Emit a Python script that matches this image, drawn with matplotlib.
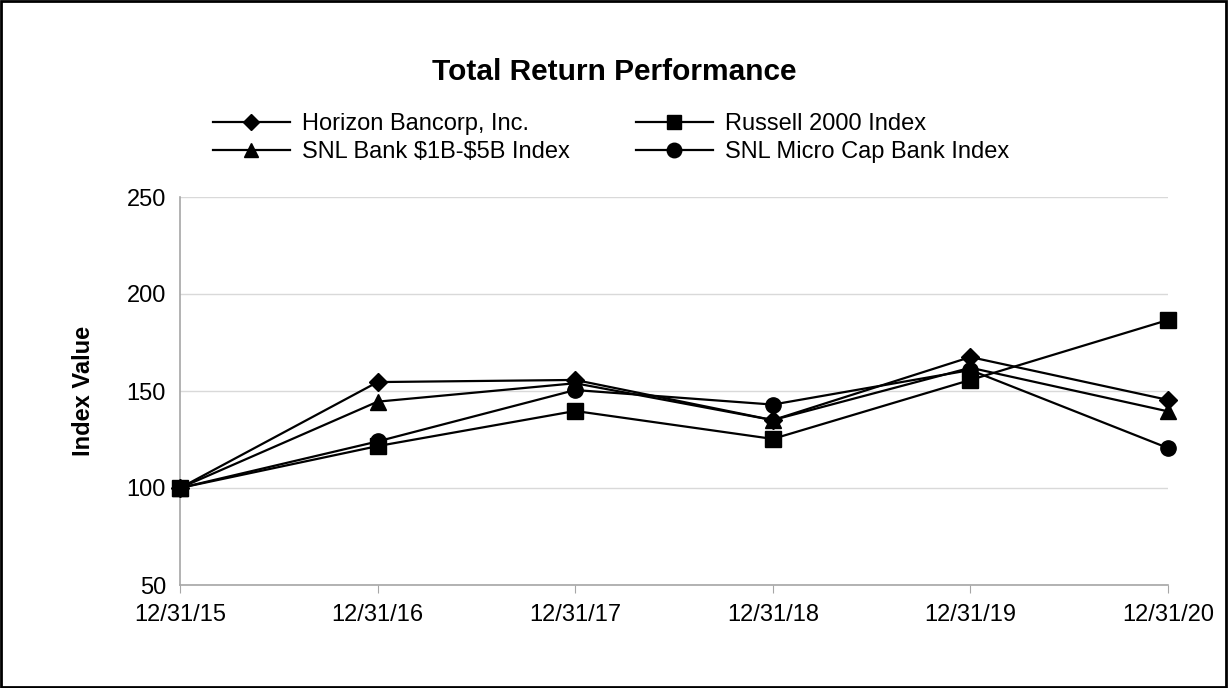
import matplotlib
matplotlib.use("Agg")
import matplotlib.pyplot as plt
from matplotlib.patches import Rectangle

plt.rcParams['font.family'] = ['Liberation Sans', 'DejaVu Sans']

dates = ["12/31/15", "12/31/16", "12/31/17", "12/31/18", "12/31/19", "12/31/20"]
horizon = [100, 154.6, 155.7, 135.0, 167.5, 145.4]
russell = [100, 121.6, 139.7, 125.3, 155.7, 186.6]
snl_1b_5b = [100, 144.5, 154.0, 135.0, 162.0, 139.5]
snl_micro = [100, 124.0, 150.5, 143.0, 160.8, 120.6]

# legend order is row-wise in the reference: col1 = horizon, snl 1b-5b
series = [
    (r"Horizon Bancorp, Inc.", horizon, "D", 9),
    (r"SNL Bank \$1B-\$5B Index", snl_1b_5b, "^", 11),
    (r"Russell 2000 Index", russell, "s", 11),
    (r"SNL Micro Cap Bank Index", snl_micro, "o", 11),
]

fig = plt.figure(figsize=(12.28, 6.88), dpi=100)
ax = fig.add_axes([180 / 1228, 1 - 585 / 688, 988 / 1228, 388 / 688])

x = list(range(len(dates)))
handles = []
for name, vals, mk, ms in series:
    h, = ax.plot(x, vals, color="black", lw=1.6, marker=mk, markersize=ms,
                 label=name, clip_on=False, zorder=3)
    handles.append(h)

ax.set_xlim(0, len(dates) - 1)
ax.set_ylim(50, 250)
ax.set_yticks([50, 100, 150, 200, 250])
ax.set_xticks(x)
ax.set_xticklabels(dates)
ax.grid(axis="y", color="#d9d9d9", lw=1)
ax.set_axisbelow(True)
for s in ["top", "right"]:
    ax.spines[s].set_visible(False)
for s in ["left", "bottom"]:
    ax.spines[s].set_color("#a6a6a6")
    ax.spines[s].set_linewidth(1.2)
ax.tick_params(axis="x", length=6, color="#a6a6a6", labelsize=17, pad=8)
ax.tick_params(axis="y", length=0, labelsize=17, pad=10)
ax.set_ylabel("Index Value", fontsize=17, fontweight="bold", labelpad=23)

fig.text(614 / 1228, 1 - 72 / 688, "Total Return Performance", fontsize=21.5,
         fontweight="bold", ha="center", va="center")

fig.legend(handles=handles, loc="upper left",
           bbox_to_anchor=(213 / 1228, 1 - 113 / 688), ncol=2,
           frameon=False, fontsize=17, handlelength=3.26, columnspacing=2.8,
           labelspacing=0.25, handletextpad=0.5, borderpad=0, borderaxespad=0,
           markerscale=0.95)

fig.add_artist(Rectangle((0.001, 0.001), 0.997, 0.997, transform=fig.transFigure,
                         fill=False, edgecolor="black", lw=2))

fig.savefig("out.png", dpi=100)
